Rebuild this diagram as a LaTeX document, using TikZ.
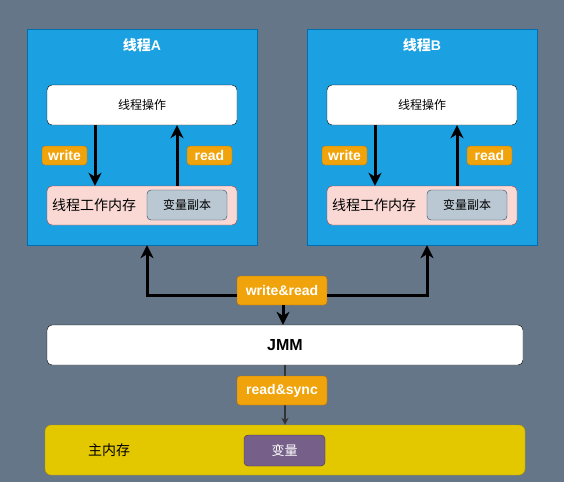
\documentclass[tikz,border=0pt]{standalone}
\usepackage{fontspec}
\setmainfont{Liberation Sans}
\newfontfamily\cjk{Noto Sans CJK SC}
\usetikzlibrary{arrows.meta}
\definecolor{bgc}{HTML}{647687}
\definecolor{threadc}{HTML}{1BA1E2}
\definecolor{threadb}{HTML}{006EAF}
\definecolor{workc}{HTML}{FAD9D5}
\definecolor{workb}{HTML}{AE4132}
\definecolor{copyc}{HTML}{BAC8D3}
\definecolor{copyb}{HTML}{23445D}
\definecolor{tagc}{HTML}{F0A30A}
\definecolor{tagb}{HTML}{BD7000}
\definecolor{mainc}{HTML}{E3C800}
\definecolor{mainb}{HTML}{B09500}
\definecolor{varc}{HTML}{76608A}
\definecolor{varb}{HTML}{432D57}

\begin{document}
\begin{tikzpicture}[x=1pt, y=-1pt,
    every node/.style={inner sep=0pt},
    thread/.style={fill=threadc, draw=threadb, minimum width=230pt, minimum height=216pt},
    opbox/.style={fill=white, draw=black, rounded corners=5pt, minimum width=190pt, minimum height=40pt,
      font=\fontsize{12}{14}\selectfont\cjk},
    workbox/.style={fill=workc, draw=workb, rounded corners=5pt, minimum width=190pt, minimum height=39pt},
    copybox/.style={fill=copyc, draw=copyb, rounded corners=4pt, minimum width=80pt, minimum height=30pt,
      font=\fontsize{12}{14}\selectfont\cjk},
    tag/.style={fill=tagc, draw=tagb, rounded corners=3pt, text=white,
      font=\fontsize{14}{16}\selectfont\bfseries},
    bigarrow/.style={line width=3pt, -{Stealth[length=13pt,width=13pt,inset=4pt]}}]
      \fill[bgc] (0,0) rectangle (564,482);
      \useasboundingbox (0,0) rectangle (564,482);

      % thread A
      \node[thread] (threadA) at (142,137) {};
      \node[text=white, font=\fontsize{14}{16}\selectfont\bfseries] (titleA) at (142,45) {{\cjk 线程}A};
      \node[opbox] (opA) at (142,105) {线程操作};
      \node[workbox] (workA) at (142,205.5) {};
      \node[font=\fontsize{14}{16}\selectfont\cjk, anchor=west] (wmA) at (52,205.5) {线程工作内存};
      \node[copybox] (copyA) at (187,205) {变量副本};
      \draw[bigarrow] ([xshift=-47pt]opA.south) -- ([xshift=-47pt]opA.south |- workA.north);
      \draw[bigarrow] ([xshift=35pt]opA.south |- workA.north) -- ([xshift=35pt]opA.south);
      \node[tag, minimum width=45pt, minimum height=19pt] (writeA) at (64.5,155.5) {write};
      \node[tag, minimum width=45pt, minimum height=19pt] (readA) at (209.5,155.5) {read};

      % thread B
      \node[thread] (threadB) at (422,137) {};
      \node[text=white, font=\fontsize{14}{16}\selectfont\bfseries] (titleB) at (422,45) {{\cjk 线程}B};
      \node[opbox] (opB) at (422,105) {线程操作};
      \node[workbox] (workB) at (422,205.5) {};
      \node[font=\fontsize{14}{16}\selectfont\cjk, anchor=west] (wmB) at (332,205.5) {线程工作内存};
      \node[copybox] (copyB) at (467,205) {变量副本};
      \draw[bigarrow] ([xshift=-47pt]opB.south) -- ([xshift=-47pt]opB.south |- workB.north);
      \draw[bigarrow] ([xshift=35pt]opB.south |- workB.north) -- ([xshift=35pt]opB.south);
      \node[tag, minimum width=45pt, minimum height=19pt] (writeB) at (344.5,155.5) {write};
      \node[tag, minimum width=45pt, minimum height=19pt] (readB) at (489.5,155.5) {read};

      % JMM and main memory
      \node[fill=white, draw=black, rounded corners=5pt, minimum width=476pt, minimum height=40pt,
        font=\fontsize{16}{18}\selectfont\bfseries] (jmm) at (285,345) {JMM};
      \node[fill=mainc, draw=mainb, rounded corners=6pt, minimum width=480pt, minimum height=50pt] (mainmem) at (285,450) {};
      \node[font=\fontsize{14}{16}\selectfont\cjk] (mainlbl) at (109,450) {主内存};
      \node[fill=varc, draw=varb, rounded corners=4pt, minimum width=81pt, minimum height=31pt, text=white,
        font=\fontsize{13}{15}\selectfont\cjk] (var) at (284.5,450.5) {变量};

      \node[tag, minimum width=90pt, minimum height=29pt] (wr) at (282,290.5) {write\&read};
      \draw[bigarrow] ([yshift=-4.5pt]wr.west) -| ([xshift=5pt]threadA.south);
      \draw[bigarrow] ([yshift=-4.5pt]wr.east) -| ([xshift=5pt]threadB.south);
      \draw[bigarrow] ([xshift=1pt]wr.south) -- ([xshift=1pt]wr.south |- jmm.north);

      \draw[line width=1.2pt, draw=black!80, -{Stealth[length=7pt,width=7pt]}] (jmm.south) -- (mainmem.north);
      \node[tag, minimum width=90pt, minimum height=29pt] (rs) at (282,390.5) {read\&sync};
    \end{tikzpicture}
\end{document}
